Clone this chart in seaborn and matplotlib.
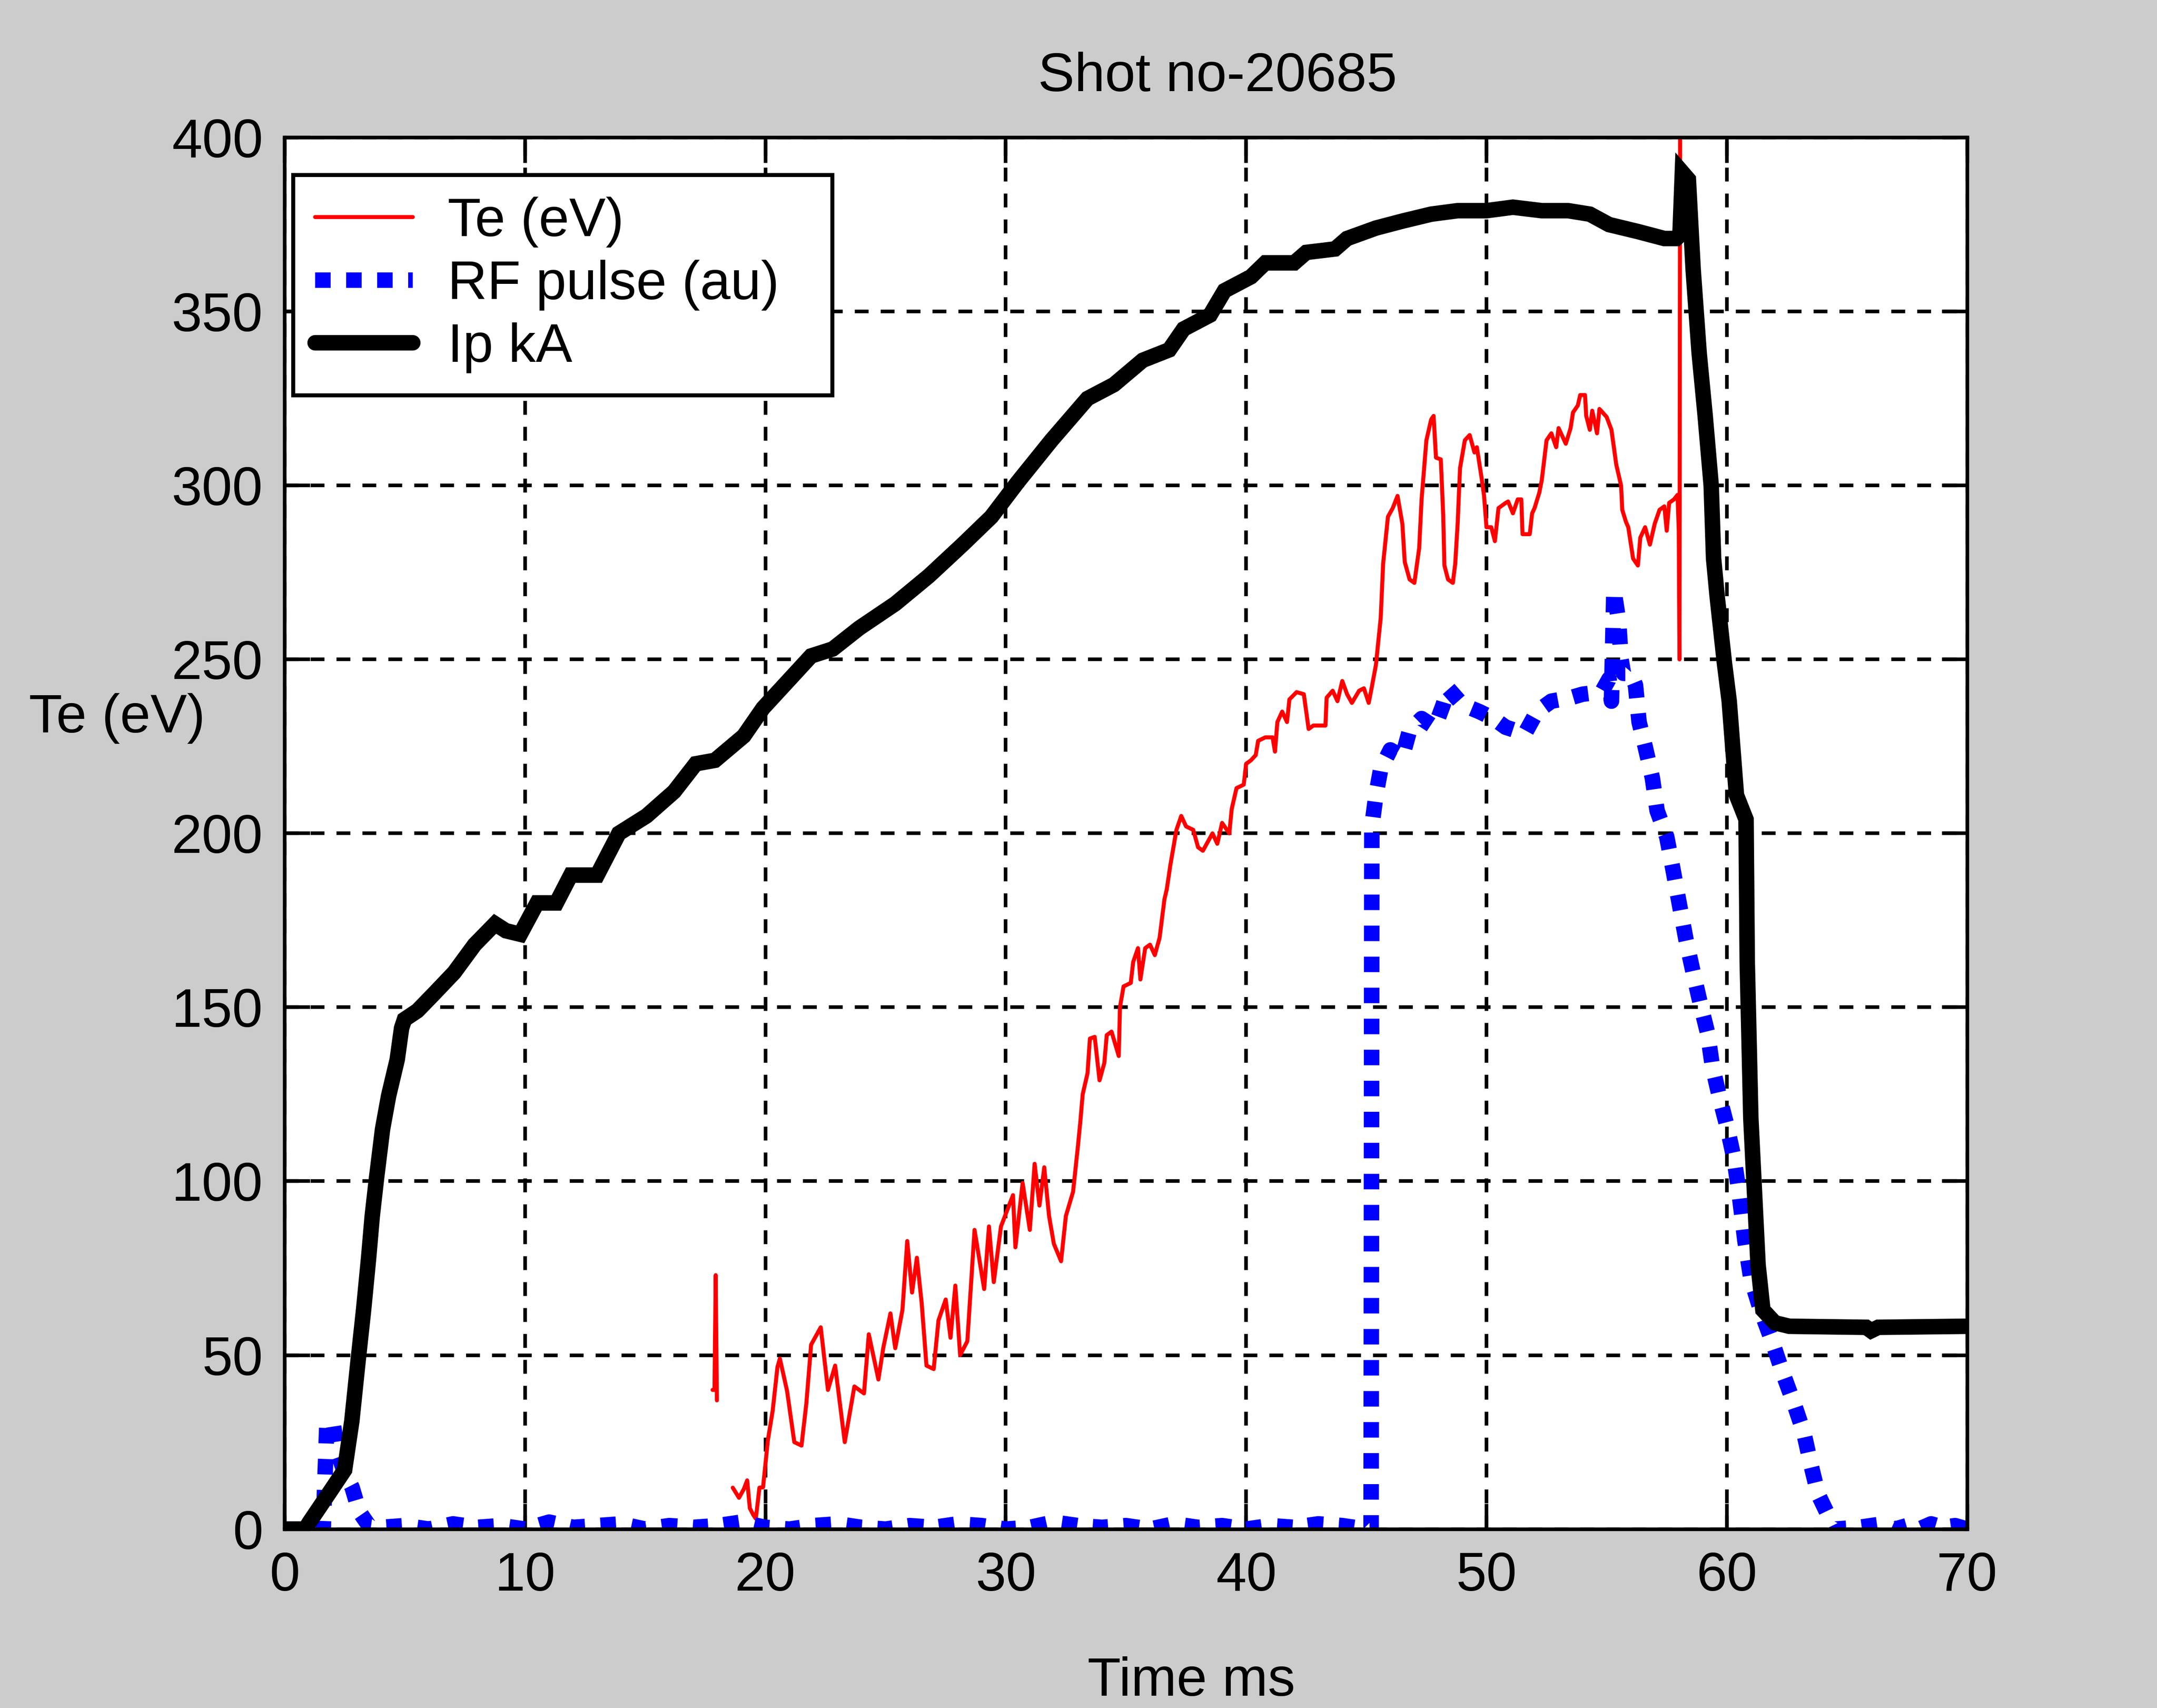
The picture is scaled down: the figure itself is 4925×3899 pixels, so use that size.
import numpy as np
import pandas as pd
import matplotlib
matplotlib.use("Agg")
import matplotlib.pyplot as plt
import seaborn as sns

# ---------------- data ----------------
title = "Shot no-20685"
x_label = "Time ms"
y_label = "Te (eV)"
series_labels = ["Te (eV)", "RF pulse (au)", "Ip kA"]
x_ticks = [0, 10, 20, 30, 40, 50, 60, 70]
y_ticks = [0, 50, 100, 150, 200, 250, 300, 350, 400]

# short isolated Te blip near 18 ms
te_blip_time = [17.8, 17.88, 17.93, 17.98]
te_blip_value = [40, 40, 73, 37]

# main Te trace
te_time = [
    18.64, 18.9, 19.1, 19.24, 19.35, 19.5, 19.6, 19.75, 19.9, 20.1,
    20.3, 20.5, 20.6, 20.9, 21.2, 21.5, 21.7, 21.9, 22.3, 22.6,
    22.9, 23.3, 23.7, 24.1, 24.3, 24.7, 24.9, 25.2, 25.4, 25.7,
    25.9, 26.1, 26.3, 26.5, 26.7, 27.0, 27.2, 27.5, 27.7, 27.9,
    28.1, 28.4, 28.7, 29.1, 29.3, 29.5, 29.8, 30.3, 30.4, 30.7,
    31.0, 31.2, 31.4, 31.6, 31.8, 32.0, 32.3, 32.5, 32.8, 33.0,
    33.1, 33.2, 33.4, 33.5, 33.7, 33.9, 34.1, 34.2, 34.4, 34.7,
    34.75, 34.9, 35.2, 35.3, 35.5, 35.6, 35.8, 36.0, 36.2, 36.4,
    36.6, 36.7, 36.85, 37.1, 37.3, 37.5, 37.8, 38.0, 38.2, 38.6,
    38.8, 39.0, 39.3, 39.4, 39.6, 39.9, 40.0, 40.2, 40.4, 40.5,
    40.8, 41.1, 41.2, 41.3, 41.5, 41.7, 41.8, 42.1, 42.4, 42.6,
    42.8, 43.3, 43.35, 43.6, 43.8, 44.0, 44.2, 44.4, 44.7, 44.9,
    45.1, 45.2, 45.4, 45.6, 45.7, 45.9, 46.1,
    46.3, 46.5, 46.6, 46.8, 47.0, 47.2, 47.3, 47.5, 47.7, 47.8,
    47.9, 48.1, 48.2, 48.25, 48.4, 48.6, 48.7, 48.8, 48.9, 49.1,
    49.3, 49.5, 49.6, 49.8, 49.9, 50.0, 50.2, 50.35, 50.5, 50.8,
    50.9, 51.1, 51.3, 51.45, 51.5, 51.8, 51.9, 52.0, 52.2, 52.3,
    52.5, 52.7, 52.9, 53.0, 53.3, 53.5, 53.6, 53.8, 53.9, 54.1,
    54.15, 54.3, 54.4, 54.6, 54.7, 55.0, 55.2, 55.3, 55.4, 55.6,
    55.65, 55.8, 55.9, 56.1, 56.3, 56.4, 56.6, 56.8, 57.0, 57.2,
    57.4, 57.5, 57.6, 57.8, 57.95, 58.0, 58.03, 58.06,
]
te_value = [
    11.9, 9.0, 11.5, 14.0, 6.0, 4.0, 3.0, 11.9, 12.0, 25.5,
    34, 46.6, 49, 39.7, 25, 24, 36, 53, 58, 40,
    47, 25, 41, 39, 56, 43, 52, 62, 52, 63,
    82.8, 68, 78, 65, 47, 46, 60, 66, 55, 70,
    50, 54, 86, 69, 87, 71, 87, 96, 81, 99.5,
    86, 105, 93, 104, 90, 82, 77, 90, 97, 110,
    117, 125, 131, 141, 141.5, 129, 134, 142, 143, 136,
    150, 156, 157, 163, 167, 158, 167, 168, 165, 170,
    181, 184, 191, 201, 205, 202, 201, 196, 195, 200,
    197, 203, 200, 207, 213, 214, 220, 221, 222.5, 226.6,
    227.6, 227.6, 223.5, 232, 235, 232, 238.5, 240.6, 240, 230,
    231, 231, 239, 241, 238, 243.8, 240, 237.5, 241, 241.7,
    237.5, 241, 248.4, 262, 277.5, 291, 293.5,
    297, 289, 278, 273, 272, 282, 296, 313, 319, 320,
    308, 307.5, 291.5, 277, 273, 272, 277.5, 289, 305, 313,
    314.5, 309.5, 311, 302, 297, 288, 288, 284, 293.5, 295,
    295.4, 292, 296, 296, 286, 286, 292, 293.5, 298, 301.5,
    313, 315, 311, 316.5, 312, 316.5, 321, 323, 326, 326,
    320, 316, 321.5, 315, 322, 319.7, 316, 311, 306, 300,
    293, 289.6, 288, 279, 277, 285, 288, 283, 289, 293,
    294, 287, 295, 296, 297.3, 287, 250, 420,
]

# RF pulse
rf_time = [
    0.0, 1.0, 1.6, 1.75, 2.0, 2.2, 2.5, 2.8, 3.1, 3.5,
    4, 5, 6, 7, 8, 9, 10, 11, 12, 13,
    14, 15, 16, 17, 18, 19, 20, 21, 22, 23,
    24, 25, 26, 27, 28, 29, 30, 31, 32, 33,
    34, 35, 36, 37, 38, 39, 40, 41, 42, 43,
    44, 45, 45.2, 45.23, 45.4, 45.6, 46.0, 46.5, 46.8, 47.3,
    47.85, 48.2, 48.4, 49.0, 49.7, 50.3, 50.8, 51.6, 52.1, 52.7,
    53.5, 54.0, 54.8, 55.1, 55.2, 55.3, 55.5, 55.6, 55.7, 56.0,
    56.2, 56.35, 56.6, 56.9, 57.1, 57.5, 57.75, 58.0, 58.3, 58.6,
    58.9, 59.2, 59.4, 59.7, 60.0, 60.3, 60.5, 60.75, 61.0, 61.4,
    61.9, 62.3, 62.8, 63.2, 63.5, 63.8, 64.3, 64.5, 65.5, 66.5,
    67.0, 67.5, 68.0, 68.5, 69.0, 69.5, 70.0,
]
rf_value = [
    0, 0, 0, 30, 31, 22, 16, 12, 5, 1,
    0.5, 1, 0, 1.5, 0.5, 1, 0, 2, 0.5, 1,
    1.5, 0, 1, 0.5, 1, 2, 0.5, 0, 1, 1.5,
    0.5, 0, 1, 0.5, 1.5, 1, 0, 0.5, 2, 1,
    0.5, 1, 0, 1.5, 0.5, 1, 0, 1, 0.5, 1.5,
    1, 0, 0, 202, 211, 218.5, 224, 222, 229.6, 233,
    230.5, 237, 241.7, 237, 235, 233, 230.5, 228.7, 235, 238,
    239, 240, 240.7, 244.4, 238, 270, 261, 250, 246, 246,
    242.6, 232, 225, 216, 206.5, 199, 190, 180.6, 169.5, 160,
    151, 142.6, 133, 124, 116, 106.5, 97.2, 83, 72, 63,
    53.7, 45.4, 36, 27.8, 18.5, 10, 2.8, 0, 0.5, 1.5,
    0, 1, 0, 1.5, 0.5, 1, 0,
]

# plasma current Ip
ip_time = [
    0.0, 0.85, 1.03, 1.88, 2.49, 2.79, 3.03, 3.28, 3.49, 3.64,
    3.82, 4.07, 4.32, 4.68, 4.86, 4.98, 5.52, 6.14, 7.05, 7.9,
    8.75, 9.2, 9.8, 10.5, 11.3, 11.9, 13.0, 13.9, 15.05, 16.2,
    17.1, 17.9, 19.1, 19.9, 21.1, 21.9, 22.8, 23.9, 25.4, 26.8,
    28.2, 29.4, 30.5, 31.9, 33.4, 34.5, 35.7, 36.8, 37.4, 38.5,
    39.1, 40.2, 40.8, 42.0, 42.5, 43.7, 44.2, 45.4, 46.5, 47.7,
    48.8, 50.0, 51.1, 52.3, 53.4, 54.3, 55.1, 56.3, 57.4, 57.9,
    58.05, 58.15, 58.4, 58.6, 58.85, 59.1, 59.35, 59.45, 59.6, 59.9,
    60.1, 60.4, 60.8, 60.85, 61.0, 61.3, 61.5, 62.0, 62.6, 65.8,
    66.0, 66.3, 70.0,
]
ip_value = [
    0, 0, 2, 10.7, 17, 31, 47, 63, 78, 90,
    101, 115, 124.5, 135, 144, 146.5, 149, 153.4, 160, 168,
    174, 172, 171, 180, 180, 188, 188, 200, 205, 212,
    220, 221, 228, 236, 245, 251, 253, 259, 266, 274,
    283, 291, 301, 313, 325, 329, 336, 339, 345, 349,
    356, 360, 364, 364, 367, 368, 371, 374, 376, 378,
    379, 379, 380, 379, 379, 378, 375, 373, 371, 371,
    372, 390, 388, 362, 338, 320, 300, 279, 268, 249,
    238, 211, 204, 163, 118, 76, 63, 59.3, 58.3, 58,
    57, 58, 58.3,
]

# ---------------- figure ----------------
sns.set_style("ticks")
plt.rcParams["font.family"] = ["Liberation Sans", "DejaVu Sans"]
plt.rcParams["text.color"] = "black"
plt.rcParams["axes.labelcolor"] = "black"
plt.rcParams["xtick.color"] = "black"
plt.rcParams["ytick.color"] = "black"

FS = 30
fig = plt.figure(figsize=(4925 / 300, 3899 / 300), dpi=300, facecolor="#cccccc")
ax = fig.add_axes([207 / 1568, 1 - 1111 / 1241, (1430 - 207) / 1568, (1111 - 100) / 1241])
ax.set_facecolor("white")

te_df = pd.DataFrame({"t": te_time, "v": te_value})
blip_df = pd.DataFrame({"t": te_blip_time, "v": te_blip_value})
rf_df = pd.DataFrame({"t": rf_time, "v": rf_value})
ip_df = pd.DataFrame({"t": ip_time, "v": ip_value})

sns.lineplot(data=blip_df, x="t", y="v", ax=ax, estimator=None, sort=False,
             color="#ff0000", linewidth=2.2, label="_nolegend_", legend=False)
sns.lineplot(data=te_df, x="t", y="v", ax=ax, estimator=None, sort=False,
             color="#ff0000", linewidth=2.2, label=series_labels[0], legend=False)
sns.lineplot(data=rf_df, x="t", y="v", ax=ax, estimator=None, sort=False,
             color="#0000ff", linewidth=8.5, linestyle=(0, (1.0, 1.0)),
             dash_capstyle="butt", label=series_labels[1], legend=False)
sns.lineplot(data=ip_df, x="t", y="v", ax=ax, estimator=None, sort=False,
             color="black", linewidth=8.5, solid_joinstyle="miter",
             label=series_labels[2], legend=False)

ax.set_xlim(0, 70)
ax.set_ylim(0, 400)
ax.set_xticks(x_ticks)
ax.set_yticks(y_ticks)
ax.set_xticklabels([str(v) for v in x_ticks])
ax.set_yticklabels([str(v) for v in y_ticks])

ax.set_axisbelow(True)
ax.grid(True, color="black", linestyle=(0, (3.8, 3.3)), linewidth=2)
ax.tick_params(direction="in", length=14, width=2, top=True, right=True,
               labelsize=FS, pad=12, colors="black")
for s in ax.spines.values():
    s.set_visible(True)
    s.set_color("black")
    s.set_linewidth(2)

ax.set_title(title, fontsize=FS, color="black", x=(885 - 207) / 1223,
             y=(1111 - 56) / 1011, va="center", pad=0)
ax.set_xlabel(x_label, fontsize=FS, va="center", color="black")
ax.xaxis.set_label_coords((866 - 207) / 1223, (1111 - 1222) / 1011)
ax.set_ylabel(y_label, fontsize=FS, rotation=0, ha="center", va="center", color="black")
ax.yaxis.set_label_coords((85 - 207) / 1223, (1111 - 522) / 1011)

handles = [ax.lines[1], ax.lines[2], ax.lines[3]]
leg = ax.legend(handles=handles, labels=series_labels, loc="upper left",
                bbox_to_anchor=(6 / 1223, 0.5, 392 / 1223, (1111 - 127) / 1011 - 0.5),
                mode="expand", borderaxespad=0, fontsize=FS, frameon=True,
                fancybox=False, shadow=False, framealpha=1, edgecolor="black",
                facecolor="white", handlelength=1.78, handletextpad=0.64,
                borderpad=0.4, labelspacing=0.22)
leg.get_frame().set_linewidth(2.2)
for t in leg.get_texts():
    t.set_color("black")

fig.savefig("out.png", dpi=300, facecolor=fig.get_facecolor())
